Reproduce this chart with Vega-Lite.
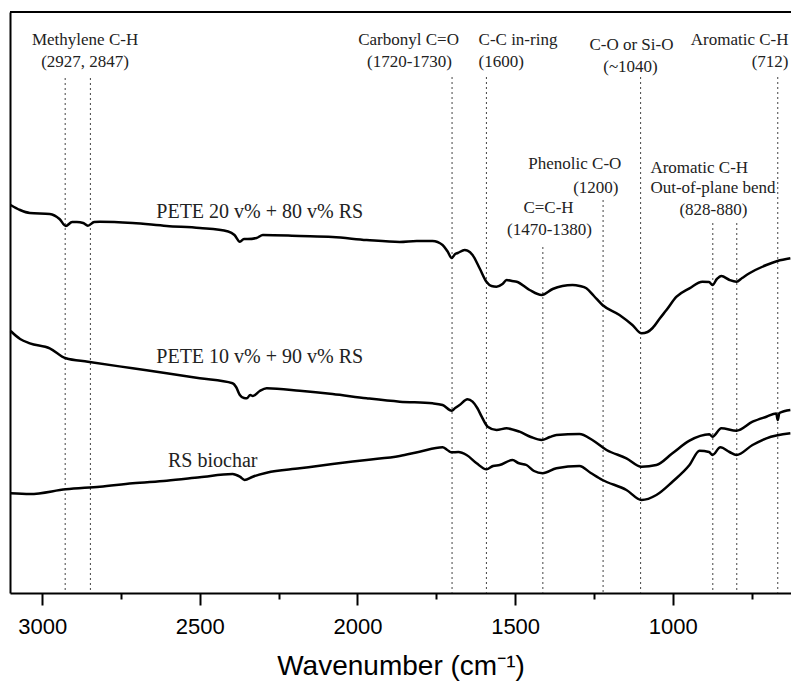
{
  "$schema": "https://vega.github.io/schema/vega-lite/v6.json",
  "width": 781,
  "height": 581,
  "autosize": "none",
  "padding": {"left": 10, "top": 12, "right": 0, "bottom": 96},
  "background": "white",
  "config": {"view": {"stroke": null}, "axis": {"grid": false}},
  "datasets": {
    "bands": [
      {"wavenumber": 2927, "top": 515}, {"wavenumber": 2847, "top": 515},
      {"wavenumber": 1700, "top": 516}, {"wavenumber": 1591, "top": 516},
      {"wavenumber": 1102, "top": 516}, {"wavenumber": 667, "top": 516},
      {"wavenumber": 1221, "top": 393}, {"wavenumber": 1412, "top": 346},
      {"wavenumber": 873, "top": 370}, {"wavenumber": 797, "top": 370}
    ],
    "spectra": [
      {"series": "PETE 20", "wavenumber": 3100, "signal": 388}, {"series": "PETE 20", "wavenumber": 3070, "signal": 383},
      {"series": "PETE 20", "wavenumber": 3039, "signal": 380}, {"series": "PETE 20", "wavenumber": 2976, "signal": 379},
      {"series": "PETE 20", "wavenumber": 2945, "signal": 374}, {"series": "PETE 20", "wavenumber": 2925, "signal": 367},
      {"series": "PETE 20", "wavenumber": 2905, "signal": 371}, {"series": "PETE 20", "wavenumber": 2890, "signal": 371},
      {"series": "PETE 20", "wavenumber": 2870, "signal": 370}, {"series": "PETE 20", "wavenumber": 2855, "signal": 367.3},
      {"series": "PETE 20", "wavenumber": 2835, "signal": 371}, {"series": "PETE 20", "wavenumber": 2817, "signal": 371.3},
      {"series": "PETE 20", "wavenumber": 2713, "signal": 370}, {"series": "PETE 20", "wavenumber": 2605, "signal": 367},
      {"series": "PETE 20", "wavenumber": 2500, "signal": 365}, {"series": "PETE 20", "wavenumber": 2410, "signal": 361.5},
      {"series": "PETE 20", "wavenumber": 2390, "signal": 358}, {"series": "PETE 20", "wavenumber": 2373, "signal": 351.3},
      {"series": "PETE 20", "wavenumber": 2360, "signal": 354}, {"series": "PETE 20", "wavenumber": 2348, "signal": 354},
      {"series": "PETE 20", "wavenumber": 2320, "signal": 355}, {"series": "PETE 20", "wavenumber": 2300, "signal": 358},
      {"series": "PETE 20", "wavenumber": 2183, "signal": 357}, {"series": "PETE 20", "wavenumber": 2079, "signal": 356},
      {"series": "PETE 20", "wavenumber": 1971, "signal": 353}, {"series": "PETE 20", "wavenumber": 1866, "signal": 351},
      {"series": "PETE 20", "wavenumber": 1812, "signal": 352}, {"series": "PETE 20", "wavenumber": 1762, "signal": 352},
      {"series": "PETE 20", "wavenumber": 1730, "signal": 348}, {"series": "PETE 20", "wavenumber": 1715, "signal": 342},
      {"series": "PETE 20", "wavenumber": 1701, "signal": 335}, {"series": "PETE 20", "wavenumber": 1690, "signal": 339},
      {"series": "PETE 20", "wavenumber": 1682, "signal": 340}, {"series": "PETE 20", "wavenumber": 1660, "signal": 343},
      {"series": "PETE 20", "wavenumber": 1651, "signal": 342.3}, {"series": "PETE 20", "wavenumber": 1635, "signal": 338},
      {"series": "PETE 20", "wavenumber": 1613, "signal": 325}, {"series": "PETE 20", "wavenumber": 1591, "signal": 311.3},
      {"series": "PETE 20", "wavenumber": 1575, "signal": 307}, {"series": "PETE 20", "wavenumber": 1559, "signal": 306.3},
      {"series": "PETE 20", "wavenumber": 1540, "signal": 309}, {"series": "PETE 20", "wavenumber": 1527, "signal": 313},
      {"series": "PETE 20", "wavenumber": 1510, "signal": 312}, {"series": "PETE 20", "wavenumber": 1495, "signal": 311.3},
      {"series": "PETE 20", "wavenumber": 1454, "signal": 303}, {"series": "PETE 20", "wavenumber": 1416, "signal": 298},
      {"series": "PETE 20", "wavenumber": 1381, "signal": 304}, {"series": "PETE 20", "wavenumber": 1350, "signal": 307},
      {"series": "PETE 20", "wavenumber": 1318, "signal": 308}, {"series": "PETE 20", "wavenumber": 1295, "signal": 307},
      {"series": "PETE 20", "wavenumber": 1274, "signal": 304.7}, {"series": "PETE 20", "wavenumber": 1250, "signal": 297},
      {"series": "PETE 20", "wavenumber": 1223, "signal": 288}, {"series": "PETE 20", "wavenumber": 1169, "signal": 278},
      {"series": "PETE 20", "wavenumber": 1128, "signal": 268}, {"series": "PETE 20", "wavenumber": 1099, "signal": 259.7},
      {"series": "PETE 20", "wavenumber": 1080, "signal": 261}, {"series": "PETE 20", "wavenumber": 1064, "signal": 265},
      {"series": "PETE 20", "wavenumber": 1040, "signal": 275}, {"series": "PETE 20", "wavenumber": 1020, "signal": 283},
      {"series": "PETE 20", "wavenumber": 988, "signal": 296.3}, {"series": "PETE 20", "wavenumber": 947, "signal": 304.7},
      {"series": "PETE 20", "wavenumber": 906, "signal": 311.3}, {"series": "PETE 20", "wavenumber": 885, "signal": 311},
      {"series": "PETE 20", "wavenumber": 874, "signal": 308}, {"series": "PETE 20", "wavenumber": 860, "signal": 314},
      {"series": "PETE 20", "wavenumber": 846, "signal": 317}, {"series": "PETE 20", "wavenumber": 820, "signal": 313},
      {"series": "PETE 20", "wavenumber": 798, "signal": 311.3}, {"series": "PETE 20", "wavenumber": 780, "signal": 315},
      {"series": "PETE 20", "wavenumber": 757, "signal": 319.7}, {"series": "PETE 20", "wavenumber": 703, "signal": 328},
      {"series": "PETE 20", "wavenumber": 668, "signal": 332}, {"series": "PETE 20", "wavenumber": 627, "signal": 334.7},

      {"series": "PETE 10", "wavenumber": 3100, "signal": 262}, {"series": "PETE 10", "wavenumber": 3070, "signal": 254},
      {"series": "PETE 10", "wavenumber": 3039, "signal": 249.7}, {"series": "PETE 10", "wavenumber": 2976, "signal": 244.7},
      {"series": "PETE 10", "wavenumber": 2925, "signal": 234.7}, {"series": "PETE 10", "wavenumber": 2855, "signal": 231.3},
      {"series": "PETE 10", "wavenumber": 2713, "signal": 224.7}, {"series": "PETE 10", "wavenumber": 2605, "signal": 219.7},
      {"series": "PETE 10", "wavenumber": 2500, "signal": 214.7}, {"series": "PETE 10", "wavenumber": 2396, "signal": 209.7},
      {"series": "PETE 10", "wavenumber": 2385, "signal": 206}, {"series": "PETE 10", "wavenumber": 2373, "signal": 198},
      {"series": "PETE 10", "wavenumber": 2360, "signal": 195}, {"series": "PETE 10", "wavenumber": 2351, "signal": 194.7},
      {"series": "PETE 10", "wavenumber": 2340, "signal": 198}, {"series": "PETE 10", "wavenumber": 2332, "signal": 197},
      {"series": "PETE 10", "wavenumber": 2310, "signal": 202}, {"series": "PETE 10", "wavenumber": 2288, "signal": 204.7},
      {"series": "PETE 10", "wavenumber": 2183, "signal": 202.3}, {"series": "PETE 10", "wavenumber": 2079, "signal": 199},
      {"series": "PETE 10", "wavenumber": 1971, "signal": 194.7}, {"series": "PETE 10", "wavenumber": 1866, "signal": 191.3},
      {"series": "PETE 10", "wavenumber": 1762, "signal": 189.7}, {"series": "PETE 10", "wavenumber": 1730, "signal": 188},
      {"series": "PETE 10", "wavenumber": 1701, "signal": 182.3}, {"series": "PETE 10", "wavenumber": 1690, "signal": 185},
      {"series": "PETE 10", "wavenumber": 1676, "signal": 188}, {"series": "PETE 10", "wavenumber": 1651, "signal": 193.7},
      {"series": "PETE 10", "wavenumber": 1635, "signal": 191.3}, {"series": "PETE 10", "wavenumber": 1620, "signal": 185},
      {"series": "PETE 10", "wavenumber": 1606, "signal": 176.3}, {"series": "PETE 10", "wavenumber": 1587, "signal": 166.3},
      {"series": "PETE 10", "wavenumber": 1559, "signal": 163}, {"series": "PETE 10", "wavenumber": 1527, "signal": 164.7},
      {"series": "PETE 10", "wavenumber": 1486, "signal": 161.3}, {"series": "PETE 10", "wavenumber": 1450, "signal": 156},
      {"series": "PETE 10", "wavenumber": 1416, "signal": 153}, {"series": "PETE 10", "wavenumber": 1390, "signal": 156},
      {"series": "PETE 10", "wavenumber": 1369, "signal": 158}, {"series": "PETE 10", "wavenumber": 1296, "signal": 159},
      {"series": "PETE 10", "wavenumber": 1255, "signal": 153}, {"series": "PETE 10", "wavenumber": 1210, "signal": 143},
      {"series": "PETE 10", "wavenumber": 1147, "signal": 134.7}, {"series": "PETE 10", "wavenumber": 1099, "signal": 126.3},
      {"series": "PETE 10", "wavenumber": 1052, "signal": 128}, {"series": "PETE 10", "wavenumber": 1001, "signal": 139.7},
      {"series": "PETE 10", "wavenumber": 947, "signal": 152.3}, {"series": "PETE 10", "wavenumber": 884, "signal": 158.7},
      {"series": "PETE 10", "wavenumber": 874, "signal": 156.3}, {"series": "PETE 10", "wavenumber": 846, "signal": 164.7},
      {"series": "PETE 10", "wavenumber": 798, "signal": 162.3}, {"series": "PETE 10", "wavenumber": 747, "signal": 171.3},
      {"series": "PETE 10", "wavenumber": 703, "signal": 176.3}, {"series": "PETE 10", "wavenumber": 672, "signal": 179.5},
      {"series": "PETE 10", "wavenumber": 667, "signal": 173}, {"series": "PETE 10", "wavenumber": 662, "signal": 180},
      {"series": "PETE 10", "wavenumber": 627, "signal": 183},

      {"series": "RS biochar", "wavenumber": 3100, "signal": 99.7}, {"series": "RS biochar", "wavenumber": 3039, "signal": 99},
      {"series": "RS biochar", "wavenumber": 2925, "signal": 103.7}, {"series": "RS biochar", "wavenumber": 2817, "signal": 106.3},
      {"series": "RS biochar", "wavenumber": 2713, "signal": 109.7}, {"series": "RS biochar", "wavenumber": 2605, "signal": 112.3},
      {"series": "RS biochar", "wavenumber": 2500, "signal": 115.7}, {"series": "RS biochar", "wavenumber": 2396, "signal": 119},
      {"series": "RS biochar", "wavenumber": 2373, "signal": 116.3}, {"series": "RS biochar", "wavenumber": 2358, "signal": 113},
      {"series": "RS biochar", "wavenumber": 2332, "signal": 116.3}, {"series": "RS biochar", "wavenumber": 2288, "signal": 120.3},
      {"series": "RS biochar", "wavenumber": 2183, "signal": 124.7}, {"series": "RS biochar", "wavenumber": 2079, "signal": 129},
      {"series": "RS biochar", "wavenumber": 1971, "signal": 133}, {"series": "RS biochar", "wavenumber": 1866, "signal": 137},
      {"series": "RS biochar", "wavenumber": 1803, "signal": 141.3}, {"series": "RS biochar", "wavenumber": 1730, "signal": 145.7},
      {"series": "RS biochar", "wavenumber": 1715, "signal": 143}, {"series": "RS biochar", "wavenumber": 1701, "signal": 140.7},
      {"series": "RS biochar", "wavenumber": 1680, "signal": 141}, {"series": "RS biochar", "wavenumber": 1654, "signal": 138},
      {"series": "RS biochar", "wavenumber": 1622, "signal": 129.7}, {"series": "RS biochar", "wavenumber": 1591, "signal": 123.7},
      {"series": "RS biochar", "wavenumber": 1570, "signal": 127}, {"series": "RS biochar", "wavenumber": 1549, "signal": 128},
      {"series": "RS biochar", "wavenumber": 1508, "signal": 133}, {"series": "RS biochar", "wavenumber": 1490, "signal": 130},
      {"series": "RS biochar", "wavenumber": 1464, "signal": 128}, {"series": "RS biochar", "wavenumber": 1440, "signal": 122},
      {"series": "RS biochar", "wavenumber": 1413, "signal": 119.7}, {"series": "RS biochar", "wavenumber": 1369, "signal": 124.7},
      {"series": "RS biochar", "wavenumber": 1296, "signal": 127}, {"series": "RS biochar", "wavenumber": 1260, "signal": 120},
      {"series": "RS biochar", "wavenumber": 1223, "signal": 113}, {"series": "RS biochar", "wavenumber": 1147, "signal": 103},
      {"series": "RS biochar", "wavenumber": 1099, "signal": 93}, {"series": "RS biochar", "wavenumber": 1052, "signal": 98},
      {"series": "RS biochar", "wavenumber": 1001, "signal": 111.3}, {"series": "RS biochar", "wavenumber": 947, "signal": 128},
      {"series": "RS biochar", "wavenumber": 915, "signal": 142.3}, {"series": "RS biochar", "wavenumber": 885, "signal": 141},
      {"series": "RS biochar", "wavenumber": 874, "signal": 138}, {"series": "RS biochar", "wavenumber": 849, "signal": 145.7},
      {"series": "RS biochar", "wavenumber": 820, "signal": 141}, {"series": "RS biochar", "wavenumber": 798, "signal": 138},
      {"series": "RS biochar", "wavenumber": 747, "signal": 148}, {"series": "RS biochar", "wavenumber": 703, "signal": 154.7},
      {"series": "RS biochar", "wavenumber": 627, "signal": 159.7}
    ],
    "labelsCenter": [
      {"text": "Methylene C-H", "wavenumber": 2864, "signal": 548},
      {"text": "(2927, 2847)", "wavenumber": 2864, "signal": 526},
      {"text": "Carbonyl C=O", "wavenumber": 1838, "signal": 548},
      {"text": "(1720-1730)", "wavenumber": 1835, "signal": 526},
      {"text": "C-O or Si-O", "wavenumber": 1131, "signal": 543},
      {"text": "(~1040)", "wavenumber": 1134, "signal": 521},
      {"text": "C=C-H", "wavenumber": 1394, "signal": 380},
      {"text": "(1470-1380)", "wavenumber": 1391, "signal": 358},
      {"text": "(828-880)", "wavenumber": 871, "signal": 378}
    ],
    "labelsLeft": [
      {"text": "C-C in-ring", "wavenumber": 1616, "signal": 548},
      {"text": "(1600)", "wavenumber": 1616, "signal": 526},
      {"text": "Aromatic C-H", "wavenumber": 1071, "signal": 420},
      {"text": "Out-of-plane bend", "wavenumber": 1071, "signal": 400}
    ],
    "labelsRight": [
      {"text": "Aromatic C-H", "wavenumber": 633, "signal": 548},
      {"text": "(712)", "wavenumber": 633, "signal": 526},
      {"text": "Phenolic C-O", "wavenumber": 1163, "signal": 424},
      {"text": "(1200)", "wavenumber": 1172, "signal": 400}
    ],
    "seriesLabels": [
      {"text": "PETE 20 v% + 80 v% RS", "wavenumber": 2310, "signal": 375},
      {"text": "PETE 10 v% + 90 v% RS", "wavenumber": 2310, "signal": 230},
      {"text": "RS biochar", "wavenumber": 2459, "signal": 126.5}
    ]
  },
  "layer": [
    {
      "data": {"name": "bands"},
      "mark": {"type": "rule", "strokeDash": [2, 3], "strokeWidth": 1, "color": "#444444"},
      "encoding": {
        "x": {
          "field": "wavenumber", "type": "quantitative",
          "scale": {"domain": [3102, 625], "nice": false, "zero": false},
          "axis": {
            "title": "Wavenumber (cm⁻¹)",
            "values": [3000, 2750, 2500, 2250, 2000, 1750, 1500, 1250, 1000, 750],
            "format": "d",
            "labelExpr": "datum.value % 500 === 0 ? datum.label : ''",
            "labelOverlap": false,
            "tickSize": {"condition": {"test": "datum.value % 500 === 0", "value": 12}, "value": 6},
            "tickWidth": 2, "tickColor": "black",
            "domainColor": "black", "domainWidth": 2,
            "labelFont": "Liberation Sans", "labelFontSize": 22, "labelColor": "black", "labelPadding": 11,
            "titleFont": "Liberation Sans", "titleFontSize": 28, "titleFontWeight": "normal", "titleColor": "black", "titlePadding": 15
          }
        },
        "y": {
          "field": "top", "type": "quantitative",
          "scale": {"domain": [0, 581], "nice": false, "zero": false},
          "axis": {"title": null, "labels": false, "ticks": false, "domainColor": "black", "domainWidth": 2}
        },
        "y2": {"datum": 0}
      }
    },
    {
      "data": {"name": "spectra"},
      "mark": {"type": "line", "color": "black", "strokeWidth": 2.5, "strokeJoin": "round", "interpolate": "monotone"},
      "encoding": {
        "x": {"field": "wavenumber", "type": "quantitative"},
        "y": {"field": "signal", "type": "quantitative"},
        "detail": {"field": "series"}
      }
    },
    {
      "data": {"values": [{}]},
      "mark": {"type": "rule", "color": "black", "strokeWidth": 2},
      "encoding": {"y": {"datum": 581}}
    },
    {
      "data": {"name": "labelsCenter"},
      "mark": {"type": "text", "font": "Liberation Serif", "fontSize": 17, "align": "center", "baseline": "alphabetic", "color": "#222222"},
      "encoding": {
        "x": {"field": "wavenumber", "type": "quantitative"},
        "y": {"field": "signal", "type": "quantitative"},
        "text": {"field": "text"}
      }
    },
    {
      "data": {"name": "labelsLeft"},
      "mark": {"type": "text", "font": "Liberation Serif", "fontSize": 17, "align": "left", "baseline": "alphabetic", "color": "#222222"},
      "encoding": {
        "x": {"field": "wavenumber", "type": "quantitative"},
        "y": {"field": "signal", "type": "quantitative"},
        "text": {"field": "text"}
      }
    },
    {
      "data": {"name": "labelsRight"},
      "mark": {"type": "text", "font": "Liberation Serif", "fontSize": 17, "align": "right", "baseline": "alphabetic", "color": "#222222"},
      "encoding": {
        "x": {"field": "wavenumber", "type": "quantitative"},
        "y": {"field": "signal", "type": "quantitative"},
        "text": {"field": "text"}
      }
    },
    {
      "data": {"name": "seriesLabels"},
      "mark": {"type": "text", "font": "Liberation Serif", "fontSize": 20, "align": "center", "baseline": "alphabetic", "color": "#222222"},
      "encoding": {
        "x": {"field": "wavenumber", "type": "quantitative"},
        "y": {"field": "signal", "type": "quantitative"},
        "text": {"field": "text"}
      }
    }
  ]
}
